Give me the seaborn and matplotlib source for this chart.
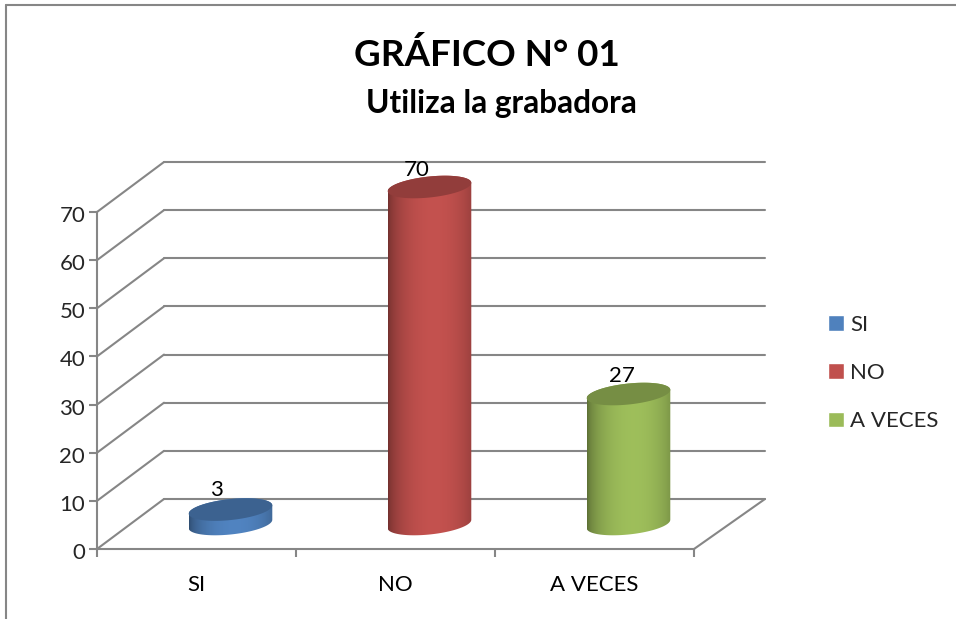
"""Recreates the 3D-looking cylinder chart 'Utiliza la grabadora'."""

import matplotlib
matplotlib.use("Agg")
import matplotlib.pyplot as plt
import numpy as np
import seaborn as sns
from matplotlib.colors import to_rgb
from matplotlib.lines import Line2D
from matplotlib.patches import PathPatch
from matplotlib.path import Path
from matplotlib.transforms import Affine2D

categories = ["SI", "NO", "A VECES"]
values = [3, 70, 27]
colors = ["#4F81BD", "#C0504D", "#9BBB59"]
y_ticks = [0, 10, 20, 30, 40, 50, 60, 70]

W, H = 956, 619
GREY = "#868686"
# axes box in pixels
LEFT, RIGHT, BASE, TOP = 97, 694, 549, 212
PX_X = (RIGHT - LEFT) / 3
PX_Y = (BASE - TOP) / 70
# data label nudges in pixels
label_dx = [-14, -13, -7]
label_dy = [20, 17, 18]

sns.set_style("white")
plt.rcParams["font.family"] = ["Lato", "DejaVu Sans"]

fig = plt.figure(figsize=(W / 100, H / 100), dpi=100)
ax = fig.add_axes([LEFT / W, 1 - BASE / H, (RIGHT - LEFT) / W, (BASE - TOP) / H])

sns.barplot(x=categories, y=values, hue=categories, palette=colors, width=0.42,
            saturation=1, dodge=False, legend="full", ax=ax)

ax.set_ylim(0, 70)
ax.set_xlim(-0.5, 2.5)

sns.move_legend(ax, loc="center left", bbox_to_anchor=(808 / W, 1 - 373 / H),
                bbox_transform=fig.transFigure, frameon=False, fontsize=16, title=None,
                handlelength=0.7, handleheight=0.7, handletextpad=0.3, labelspacing=1.28)


def depth(dx, dy):
    # shift in pixels on screen, for the fake 3D depth
    return ax.transData + Affine2D().translate(dx, dy)


# back wall and side wall lines
for tick in y_ticks:
    ax.plot([-0.5, 2.5 + 4 / PX_X], [tick, tick], color=GREY, lw=1.5, transform=depth(67, 50),
            clip_on=False, zorder=1)
    ax.plot([-0.5, -0.5 + 67 / PX_X], [tick, tick + 50 / PX_Y], color=GREY, lw=1.5,
            clip_on=False, zorder=1)
ax.plot([2.5, 2.5 + 71 / PX_X], [0, 50 / PX_Y], color=GREY, lw=1.5, clip_on=False, zorder=1)

# cylinders are built on top of the seaborn bars
shift = depth(34, 25)
full_t = np.linspace(0, 2 * np.pi, 100)
half_t = np.linspace(np.pi, 2 * np.pi, 50)
RY = 10.5 / PX_Y
TILT = 0.1 * PX_X / PX_Y

for i, (bar, color) in enumerate(zip(ax.patches, colors)):
    bar.set_visible(False)
    xc = bar.get_x() + bar.get_width() / 2
    rx = bar.get_width() / 2
    h = bar.get_height()

    low_x = xc + rx * np.cos(half_t)
    low_y = RY * np.sin(half_t) + TILT * rx * np.cos(half_t)
    top_x = xc + rx * np.cos(full_t)
    top_y = h + RY * np.sin(full_t) + TILT * rx * np.cos(full_t)

    body_x = np.r_[low_x, top_x[:50]]
    body_y = np.r_[low_y, top_y[:50]]
    body = PathPatch(Path(np.c_[body_x, body_y]), fc="none", ec="none", transform=shift)
    ax.add_patch(body)

    # horizontal shading: dark edges, light just right of the middle
    u = np.linspace(0, 1, 200)
    shade = 0.58 + 0.44 * np.clip(1 - ((u - 0.55) / 0.55) ** 2, 0, 1) ** 0.6
    rgb = np.clip(np.outer(shade, to_rgb(color)), 0, 1)[None, :, :]
    im = ax.imshow(rgb, extent=[xc - rx, xc + rx, -RY * 2, h + RY * 2], aspect="auto",
                   transform=shift, zorder=3)
    im.set_clip_box(fig.bbox)
    im.set_clip_path(body)

    lid_color = tuple(c * 0.76 for c in to_rgb(color))
    ax.fill(top_x, top_y, color=lid_color, lw=0, transform=shift, zorder=4, clip_on=False)

    ax.annotate(str(int(h)), (xc, h), xytext=(label_dx[i], label_dy[i]), textcoords="offset pixels",
                xycoords=shift, ha="center", va="center", fontsize=16, color="black",
                zorder=5, annotation_clip=False)

ax.set_xlim(-0.5, 2.5)
ax.set_ylim(0, 70)

# axes styling
ax.set_yticks(y_ticks)
ax.set_xticks(range(len(categories)))
ax.set_xticklabels(categories)
ax.set_xticks([-0.5, 0.5, 1.5, 2.5], minor=True)
ax.tick_params(axis="x", which="major", length=0, pad=19, labelsize=16, colors="black")
ax.tick_params(axis="x", which="minor", length=6, width=1.5, color=GREY, bottom=True)
ax.tick_params(axis="y", length=5.5, width=1.5, color=GREY, left=True, labelsize=16, pad=3)
for label in ax.get_yticklabels():
    label.set_transform(label.get_transform() + Affine2D().translate(0, -2))
for name in ["top", "right"]:
    ax.spines[name].set_visible(False)
for name in ["left", "bottom"]:
    ax.spines[name].set_color(GREY)
    ax.spines[name].set_linewidth(1.5)
ax.patch.set_alpha(0)
ax.set_xlabel("")
ax.set_ylabel("")

# titles
fig.text(487 / W, 1 - 55 / H, "GRÁFICO N° 01", ha="center", va="center",
         fontsize=26.5, fontweight="bold", color="black")
fig.text(501 / W, 1 - 104 / H, "Utiliza la grabadora", ha="center", va="center",
         fontsize=22.8, fontweight="bold", color="black")

# outer chart frame, only left and top show in the crop
fig.add_artist(Line2D([6 / W, 6 / W], [0, 1 - 5 / H], color=GREY, lw=1.5))
fig.add_artist(Line2D([6 / W, 1], [1 - 5 / H, 1 - 5 / H], color=GREY, lw=1.5))

fig.savefig("out.png", dpi=100)
